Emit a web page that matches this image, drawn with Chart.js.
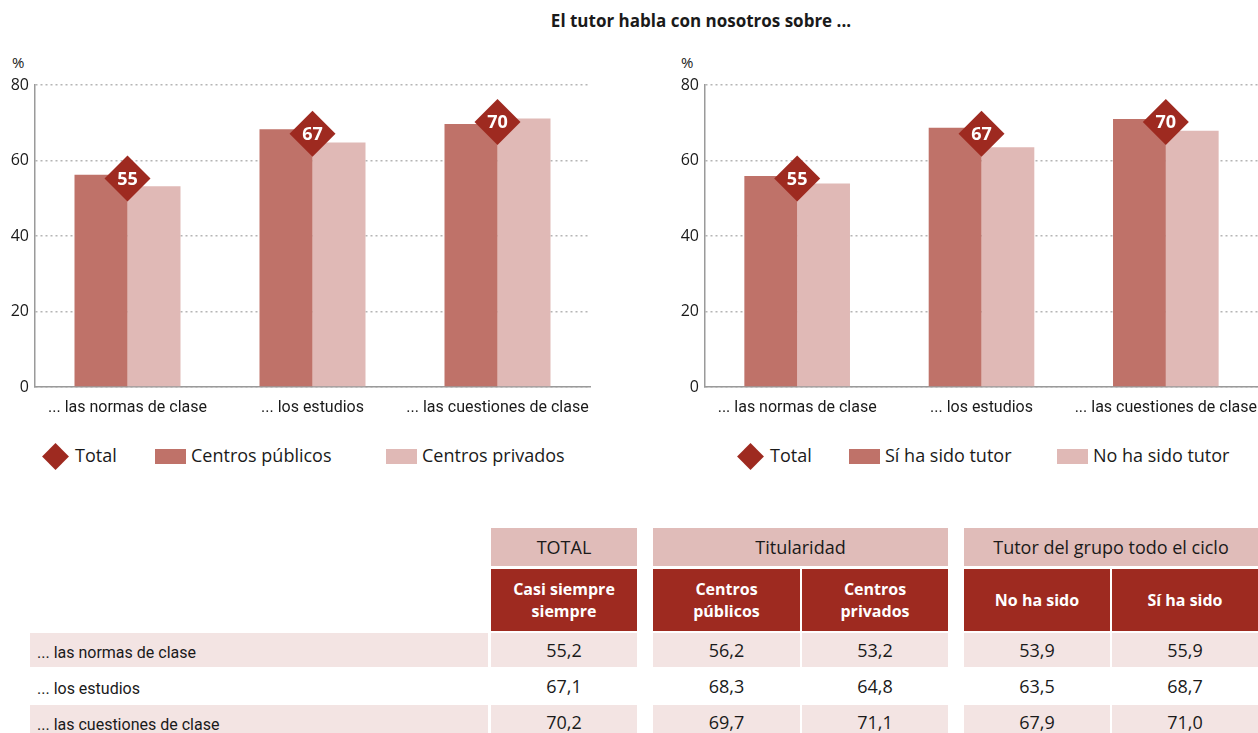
<!DOCTYPE html>
<html>
<head>
<meta charset="utf-8">
<script src="https://cdn.jsdelivr.net/npm/chart.js@4.4.0/dist/chart.umd.min.js"></script>
<style>
  body { margin: 0; width: 1258px; height: 733px; background: #fff; position: relative; overflow: hidden;
         font-family: "Open Sans", "Noto Sans", sans-serif; color: #1a1a1a; }
  .abs { position: absolute; }
  #title { left: 0; width: 1402px; top: 9px; text-align: center; font-weight: bold; font-size: 17px; }
  .pct { font-size: 15px; }
  .leg { font-size: 18px; white-space: nowrap; }
  .dia { width: 19px; height: 19px; background: #9e2a20; transform: rotate(45deg); }
  .box { width: 31px; height: 15px; }
  .cell { display: flex; align-items: center; justify-content: center; text-align: center; box-sizing: border-box; }
</style>
</head>
<body>
<div id="title" class="abs">El tutor habla con nosotros sobre ...</div>
<div class="abs pct" style="left:12px;top:52px">%</div>
<div class="abs pct" style="left:681px;top:52px">%</div>
<div class="abs" style="left:0;top:75px;width:600px;height:345px"><canvas id="chart1"></canvas></div>
<div class="abs" style="left:670px;top:75px;width:588px;height:345px"><canvas id="chart2"></canvas></div>
<div id="legends"></div>
<div id="table"></div>

<script>
const categories = ['... las normas de clase', '... los estudios', '... las cuestiones de clase'];
const total = [55.2, 67.1, 70.2];
const publicos = [56.2, 68.3, 69.7];
const privados = [53.2, 64.8, 71.1];
const noTutor = [53.9, 63.5, 67.9];
const siTutor = [55.9, 68.7, 71.0];
const yTicks = [0, 20, 40, 60, 80];

const DARK = '#9e2a20';
const MID = '#bf7269';
const LIGHT = '#e0b9b6';

// labels inside the diamonds
const diamondLabels = {
    id: 'diamondLabels',
    afterDatasetsDraw(chart) {
        const ctx = chart.ctx;
        chart.data.datasets.forEach((ds, i) => {
            if (ds.type !== 'line') return;
            chart.getDatasetMeta(i).data.forEach((pt, j) => {
                ctx.save();
                ctx.fillStyle = '#fff';
                ctx.font = 'bold 18px "Open Sans", sans-serif';
                ctx.textAlign = 'center';
                ctx.textBaseline = 'middle';
                ctx.fillText(Math.round(ds.data[j]), pt.x, pt.y + 1);
                ctx.restore();
            });
        });
    }
};

function makeChart(id, barA, barB, padRight) {
    new Chart(document.getElementById(id), {
        data: {
            labels: categories,
            datasets: [
                { type: 'line', label: 'Total', data: total, order: 0, showLine: false,
                  pointStyle: 'rectRot', pointRadius: 23, pointHoverRadius: 23,
                  backgroundColor: DARK, borderColor: DARK, borderWidth: 0 },
                { type: 'bar', data: barA, order: 1, backgroundColor: MID,
                  categoryPercentage: 0.573, barPercentage: 1.0 },
                { type: 'bar', data: barB, order: 1, backgroundColor: LIGHT,
                  categoryPercentage: 0.573, barPercentage: 1.0 },
            ]
        },
        options: {
            responsive: true,
            maintainAspectRatio: false,
            animation: false,
            layout: { autoPadding: false, padding: { top: 10, right: padRight, left: 0, bottom: 0 } },
            plugins: { legend: { display: false }, tooltip: { enabled: false } },
            scales: {
                x: {
                    grid: { drawOnChartArea: false, drawTicks: false },
                    border: { display: true, color: '#9a9a9a', width: 1.5 },
                    ticks: { color: '#1a1a1a', padding: 11, maxRotation: 0, autoSkip: false,
                             font: { family: 'Roboto, sans-serif', size: 16 } },
                    afterFit: s => { s.height = 33; s.paddingLeft = 0; s.paddingRight = 0; }
                },
                y: {
                    min: 0, max: 80,
                    afterBuildTicks: s => { s.ticks = yTicks.map(v => ({ value: v })); },
                    grid: { color: '#b5b5b5', lineWidth: 1.5, drawTicks: false },
                    border: { display: true, color: '#9a9a9a', width: 1.5, dash: [2, 3] },
                    ticks: { color: '#1a1a1a', padding: 6, font: { family: '"Open Sans", sans-serif', size: 16 } },
                    afterFit: s => { s.width = 35; s.paddingTop = 0; s.paddingBottom = 0; }
                }
            }
        },
        plugins: [diamondLabels]
    });
}

makeChart('chart1', publicos, privados, 10);
makeChart('chart2', siTutor, noTutor, 0);

// legends
const legendItems = [
    { x: 55, kind: 'dia', text: 'Total' },
    { x: 155, kind: MID, text: 'Centros públicos' },
    { x: 386, kind: LIGHT, text: 'Centros privados' },
    { x: 750, kind: 'dia', text: 'Total' },
    { x: 849, kind: MID, text: 'Sí ha sido tutor' },
    { x: 1057, kind: LIGHT, text: 'No ha sido tutor' },
];
let lg = '';
legendItems.forEach(it => {
    if (it.kind === 'dia') {
        lg += `<div class="abs dia" style="left:${it.x - 9.5}px;top:${456 - 9.5}px"></div>`;
        lg += `<div class="abs leg" style="left:${it.x + 20}px;top:443px">${it.text}</div>`;
    } else {
        lg += `<div class="abs box" style="left:${it.x}px;top:449px;background:${it.kind}"></div>`;
        lg += `<div class="abs leg" style="left:${it.x + 36}px;top:443px">${it.text}</div>`;
    }
});
document.getElementById('legends').innerHTML = lg;

// table
const groupHeads = ['TOTAL', 'Titularidad', 'Tutor del grupo todo el ciclo'];
const colHeads = ['Casi siempre<br>siempre', 'Centros<br>públicos', 'Centros<br>privados', 'No ha sido', 'Sí ha sido'];
const tableRows = categories.map((c, i) => [total[i], publicos[i], privados[i], noTutor[i], siTutor[i]]);

const cols = [[491, 637], [653, 800], [802, 948], [964, 1110], [1112, 1258]];
const groups = [[491, 637], [653, 948], [964, 1258]];
const rowsY = [[633, 667], [669, 703], [705, 739]];
let t = '';
function cell(x0, x1, y0, y1, bg, color, extra, html) {
    t += `<div class="abs cell" style="left:${x0}px;top:${y0}px;width:${x1 - x0}px;height:${y1 - y0}px;background:${bg};color:${color};${extra}">${html}</div>`;
}
groups.forEach((g, i) => cell(g[0], g[1], 528, 566, '#e0bcb9', '#1a1a1a', 'font-size:18px;', groupHeads[i]));
cols.forEach((c, i) => cell(c[0], c[1], 569, 631, '#9e2a20', '#fff', 'font-size:16px;font-weight:bold;line-height:22px;', colHeads[i]));
tableRows.forEach((r, ri) => {
    const bg = ri % 2 === 0 ? '#f3e4e3' : '#fff';
    const [y0, y1] = rowsY[ri];
    cell(30, 488, y0, y1, bg, '#1a1a1a', 'justify-content:flex-start;padding:4px 0 0 7px;font-family:Roboto,sans-serif;font-size:16px;', categories[ri]);
    r.forEach((v, ci) => cell(cols[ci][0], cols[ci][1], y0, y1, bg, '#1a1a1a', 'font-size:18px;', v.toFixed(1).replace('.', ',')));
});
document.getElementById('table').innerHTML = t;
</script>
</body>
</html>
